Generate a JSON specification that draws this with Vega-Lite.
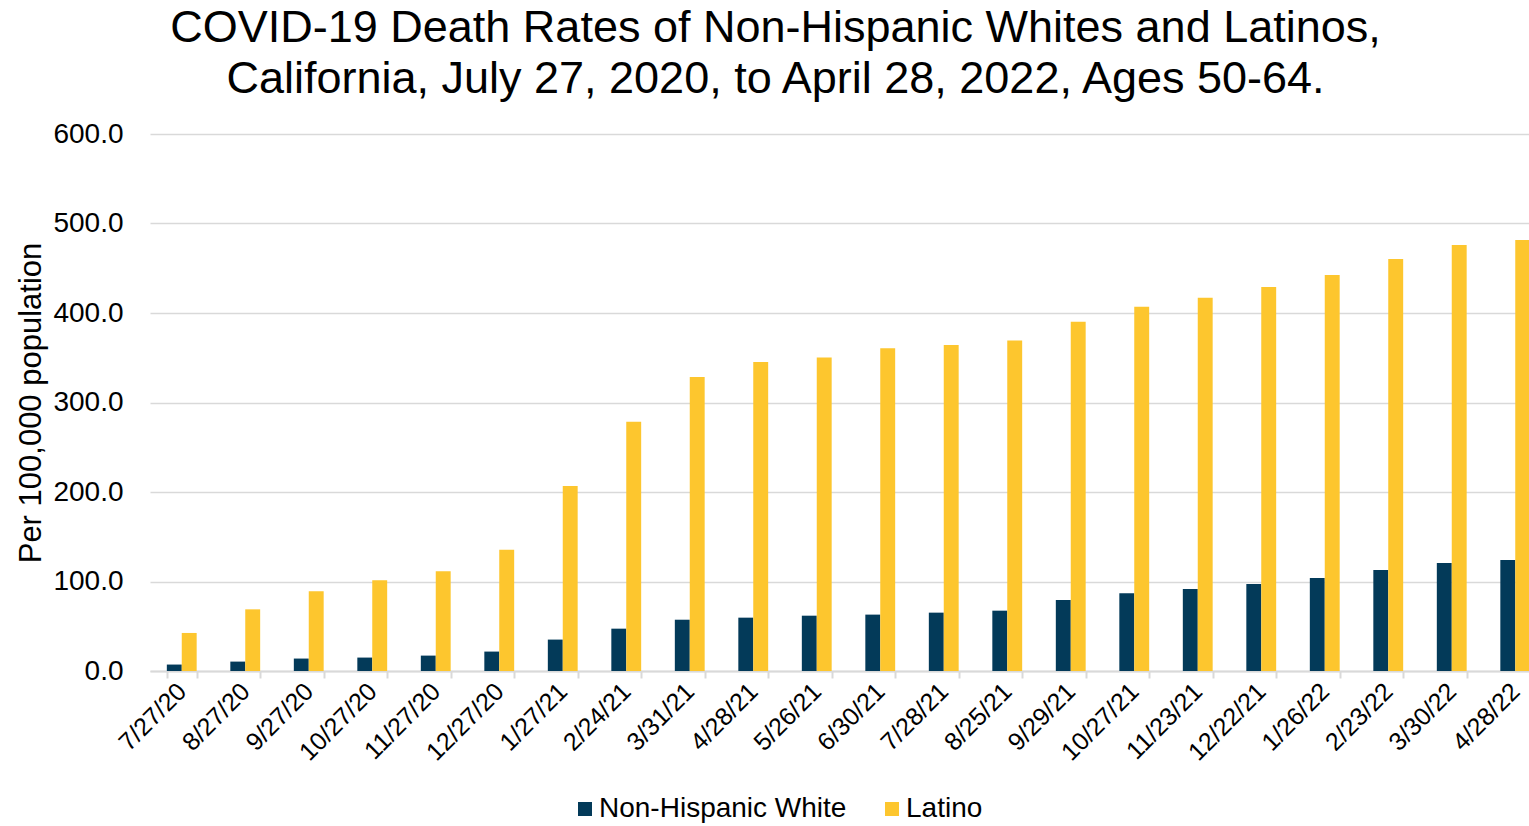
{
  "$schema": "https://vega.github.io/schema/vega-lite/v6.json",
  "autosize": {"type": "none"},
  "width": 1379,
  "height": 537,
  "padding": {"left": 150, "top": 134, "right": 0, "bottom": 155},
  "background": "white",
  "title": {
    "text": ["COVID-19 Death Rates of Non-Hispanic Whites and Latinos,", "California, July 27, 2020, to April 28, 2022, Ages 50-64."],
    "fontSize": 45,
    "font": "Liberation Sans",
    "fontWeight": "normal",
    "color": "black",
    "anchor": "middle",
    "frame": "group",
    "dx": -64,
    "offset": 18,
    "lineHeight": 51
  },
  "data": {
    "values": [
      {"date": "7/27/20", "group": "Non-Hispanic White", "rate": 7.2},
      {"date": "7/27/20", "group": "Latino", "rate": 42.5},
      {"date": "8/27/20", "group": "Non-Hispanic White", "rate": 10.5},
      {"date": "8/27/20", "group": "Latino", "rate": 68.9},
      {"date": "9/27/20", "group": "Non-Hispanic White", "rate": 13.9},
      {"date": "9/27/20", "group": "Latino", "rate": 89.0},
      {"date": "10/27/20", "group": "Non-Hispanic White", "rate": 15.0},
      {"date": "10/27/20", "group": "Latino", "rate": 101.3},
      {"date": "11/27/20", "group": "Non-Hispanic White", "rate": 17.2},
      {"date": "11/27/20", "group": "Latino", "rate": 111.4},
      {"date": "12/27/20", "group": "Non-Hispanic White", "rate": 21.7},
      {"date": "12/27/20", "group": "Latino", "rate": 135.6},
      {"date": "1/27/21", "group": "Non-Hispanic White", "rate": 35.1},
      {"date": "1/27/21", "group": "Latino", "rate": 206.7},
      {"date": "2/24/21", "group": "Non-Hispanic White", "rate": 47.3},
      {"date": "2/24/21", "group": "Latino", "rate": 278.6},
      {"date": "3/31/21", "group": "Non-Hispanic White", "rate": 57.3},
      {"date": "3/31/21", "group": "Latino", "rate": 328.5},
      {"date": "4/28/21", "group": "Non-Hispanic White", "rate": 59.6},
      {"date": "4/28/21", "group": "Latino", "rate": 345.3},
      {"date": "5/26/21", "group": "Non-Hispanic White", "rate": 61.8},
      {"date": "5/26/21", "group": "Latino", "rate": 350.4},
      {"date": "6/30/21", "group": "Non-Hispanic White", "rate": 63.0},
      {"date": "6/30/21", "group": "Latino", "rate": 360.5},
      {"date": "7/28/21", "group": "Non-Hispanic White", "rate": 65.2},
      {"date": "7/28/21", "group": "Latino", "rate": 364.3},
      {"date": "8/25/21", "group": "Non-Hispanic White", "rate": 67.4},
      {"date": "8/25/21", "group": "Latino", "rate": 369.4},
      {"date": "9/29/21", "group": "Non-Hispanic White", "rate": 79.3},
      {"date": "9/29/21", "group": "Latino", "rate": 390.3},
      {"date": "10/27/21", "group": "Non-Hispanic White", "rate": 86.8},
      {"date": "10/27/21", "group": "Latino", "rate": 407.0},
      {"date": "11/23/21", "group": "Non-Hispanic White", "rate": 91.6},
      {"date": "11/23/21", "group": "Latino", "rate": 417.1},
      {"date": "12/22/21", "group": "Non-Hispanic White", "rate": 97.2},
      {"date": "12/22/21", "group": "Latino", "rate": 429.0},
      {"date": "1/26/22", "group": "Non-Hispanic White", "rate": 103.9},
      {"date": "1/26/22", "group": "Latino", "rate": 442.5},
      {"date": "2/23/22", "group": "Non-Hispanic White", "rate": 112.8},
      {"date": "2/23/22", "group": "Latino", "rate": 460.3},
      {"date": "3/30/22", "group": "Non-Hispanic White", "rate": 120.7},
      {"date": "3/30/22", "group": "Latino", "rate": 476.0},
      {"date": "4/28/22", "group": "Non-Hispanic White", "rate": 124.0},
      {"date": "4/28/22", "group": "Latino", "rate": 481.6}
    ]
  },
  "mark": {"type": "bar"},
  "encoding": {
    "x": {
      "field": "date",
      "type": "nominal",
      "sort": null,
      "scale": {"range": [0, 1397], "paddingInner": 0.53, "paddingOuter": 0.265},
      "axis": {
        "title": null,
        "labelAngle": -45,
        "labelAlign": "right",
        "labelBaseline": "middle",
        "labelFontSize": 25,
        "labelFont": "Liberation Sans",
        "labelColor": "black",
        "labelPadding": 9,
        "labelOverlap": false,
        "tickBand": "extent",
        "tickColor": "#d9d9d9",
        "tickWidth": 2,
        "tickSize": 7,
        "domainColor": "#d9d9d9",
        "domainWidth": 2
      }
    },
    "xOffset": {
      "field": "group",
      "type": "nominal",
      "sort": ["Non-Hispanic White", "Latino"],
      "scale": {"paddingInner": 0, "paddingOuter": 0}
    },
    "y": {
      "field": "rate",
      "type": "quantitative",
      "scale": {"domain": [0, 600], "nice": false},
      "axis": {
        "title": "Per 100,000 population",
        "titleFontSize": 31,
        "titleFont": "Liberation Sans",
        "titleFontWeight": "normal",
        "titleColor": "black",
        "titlePadding": 5,
        "values": [0, 100, 200, 300, 400, 500, 600],
        "format": ".1f",
        "labelFontSize": 28,
        "labelFont": "Liberation Sans",
        "labelColor": "black",
        "labelPadding": 27,
        "ticks": false,
        "tickSize": 0,
        "domain": false,
        "gridColor": "#d9d9d9",
        "gridWidth": 1.5
      }
    },
    "color": {
      "field": "group",
      "type": "nominal",
      "scale": {"domain": ["Non-Hispanic White", "Latino"], "range": ["#033A59", "#FDC62E"]},
      "legend": {
        "orient": "none",
        "legendX": 421,
        "legendY": 661,
        "direction": "horizontal",
        "title": null,
        "symbolType": "square",
        "symbolSize": 196,
        "symbolStrokeWidth": 0,
        "labelFontSize": 28,
        "labelFont": "Liberation Sans",
        "labelColor": "black",
        "labelLimit": 500,
        "labelOffset": 0,
        "columnPadding": 31
      }
    }
  },
  "config": {"view": {"stroke": null}, "font": "Liberation Sans"}
}
